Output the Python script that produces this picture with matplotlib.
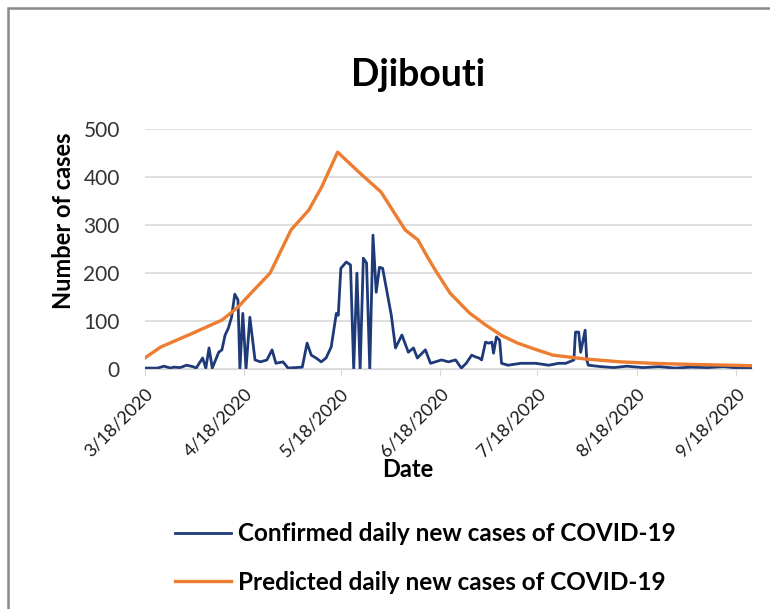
import datetime as dt
import matplotlib
matplotlib.use("Agg")
import matplotlib.pyplot as plt
from matplotlib.patches import Rectangle

plt.rcParams['font.family'] = ['Lato', 'DejaVu Sans']

start = dt.date(2020, 3, 18)
end = dt.date(2020, 9, 23)

# confirmed daily new cases (days after 3/18/2020, cases)
conf_days = [0, 4, 6, 8, 9, 11, 13, 15, 16, 18, 19, 20, 21, 23, 24, 25, 26, 27, 28, 29,
             29.6, 30.5, 31.5, 32.7, 34.3, 36, 38, 39.6, 40.8, 43, 44.6, 49, 50.5, 51.8,
             53.3, 54.9, 56.4, 58, 59.6, 60.2, 61, 62.7, 64, 65, 66, 67, 68, 69, 70, 71,
             72, 73, 74, 76.7, 78, 80, 82, 83.6, 84.8, 87.3, 88.9, 90.4, 92.3, 94.5, 96.7,
             98.5, 100, 101.7, 103, 104, 104.8, 106, 107, 108, 108.5, 109.4, 110.4, 111,
             113, 117, 121.6, 125.7, 128.8, 131, 133.5, 134, 135, 135.6, 137, 137.5, 138,
             142, 146, 150, 155, 160, 165, 170, 175, 180, 185, 189]
conf_vals = [2, 2, 6, 2, 4, 3, 8, 5, 2, 23, 2, 44, 2, 35, 40, 71, 85, 108, 156, 144,
             0, 116, 0, 108, 19, 15, 19, 40, 12, 15, 2, 4, 54, 29,
             23, 15, 23, 46, 116, 112, 210, 223, 217, 0, 200, 0, 231, 221, 0, 279,
             160, 212, 210, 112, 44, 71, 35, 44, 23, 40, 12, 15, 19, 15, 19,
             2, 12, 29, 25, 23, 19, 56, 54, 56, 33, 67, 60, 12,
             8, 12, 12, 8, 12, 12, 19, 77, 77, 35, 81, 19, 8,
             5, 3, 6, 3, 5, 2, 4, 3, 5, 2, 3]

# predicted daily new cases
pred_days = [0, 5, 15, 24, 29, 34, 39, 45.5, 51, 55, 60, 67, 73.5, 81, 85, 88, 90.4,
             95, 101, 106, 111, 116, 122, 127, 132, 137, 148, 158, 168, 189]
pred_vals = [23, 46, 75, 102, 129, 165, 200, 290, 331, 379, 452, 408, 369, 290, 269,
             233, 206, 158, 117, 92, 70, 54, 40, 29, 25, 21, 15, 12, 10, 7]

tick_dates = [dt.date(2020, m, 18) for m in range(3, 10)]


def to_dates(days):
    return [dt.datetime.combine(start, dt.time()) + dt.timedelta(days=d) for d in days]


fig = plt.figure(figsize=(7.7, 6.09), dpi=100)
ax = fig.add_axes([0.188, 0.394, 0.789, 0.394])

ax.plot(to_dates(conf_days), conf_vals, color='#1f3a78', lw=2.0,
        label='Confirmed daily new cases of COVID-19')
ax.plot(to_dates(pred_days), pred_vals, color='#ed7d31', lw=2.4,
        label='Predicted daily new cases of COVID-19')

ax.set_xlim(start, end)
ax.set_ylim(0, 500)
ax.set_yticks(range(0, 501, 100))
ax.set_xticks(tick_dates)
ax.set_xticklabels([f"{d.month}/{d.day}/{d.year}" for d in tick_dates],
                   rotation=45, ha='right', rotation_mode='anchor')
ax.grid(axis='y', color='#d9d9d9', lw=1.2)
ax.set_axisbelow(True)
for s in ['top', 'right', 'left']:
    ax.spines[s].set_visible(False)
ax.spines['bottom'].set_color('#d9d9d9')
ax.tick_params(axis='y', length=0, labelsize=15, colors='#333333', pad=18)
ax.tick_params(axis='x', length=5, color='#d9d9d9', labelsize=13, pad=7)
for lab in ax.get_xticklabels():
    lab.set_color('#1a1a1a')

fig.text(0.082, 0.637, 'Number of cases', rotation=90, ha='center', va='center',
         fontsize=17, fontweight='bold')
fig.text(0.530, 0.229, 'Date', ha='center', va='center', fontsize=17, fontweight='bold')
fig.text(0.543, 0.877, 'Djibouti', ha='center', va='center', fontsize=27, fontweight='bold')

handles, labels = ax.get_legend_handles_labels()
fig.legend(handles, labels, loc='center left', bbox_to_anchor=(0.227, 0.084),
           frameon=False, handlelength=2.3, labelspacing=1.05, borderpad=0,
           borderaxespad=0, handletextpad=0.32, prop={'weight': 'bold', 'size': 17.5})

fig.patches.append(Rectangle((0.011, -0.1), 1.2, 1.087, transform=fig.transFigure,
                             fill=False, edgecolor='#8a8a8a', lw=1.8))

fig.savefig('out.png', dpi=100)
